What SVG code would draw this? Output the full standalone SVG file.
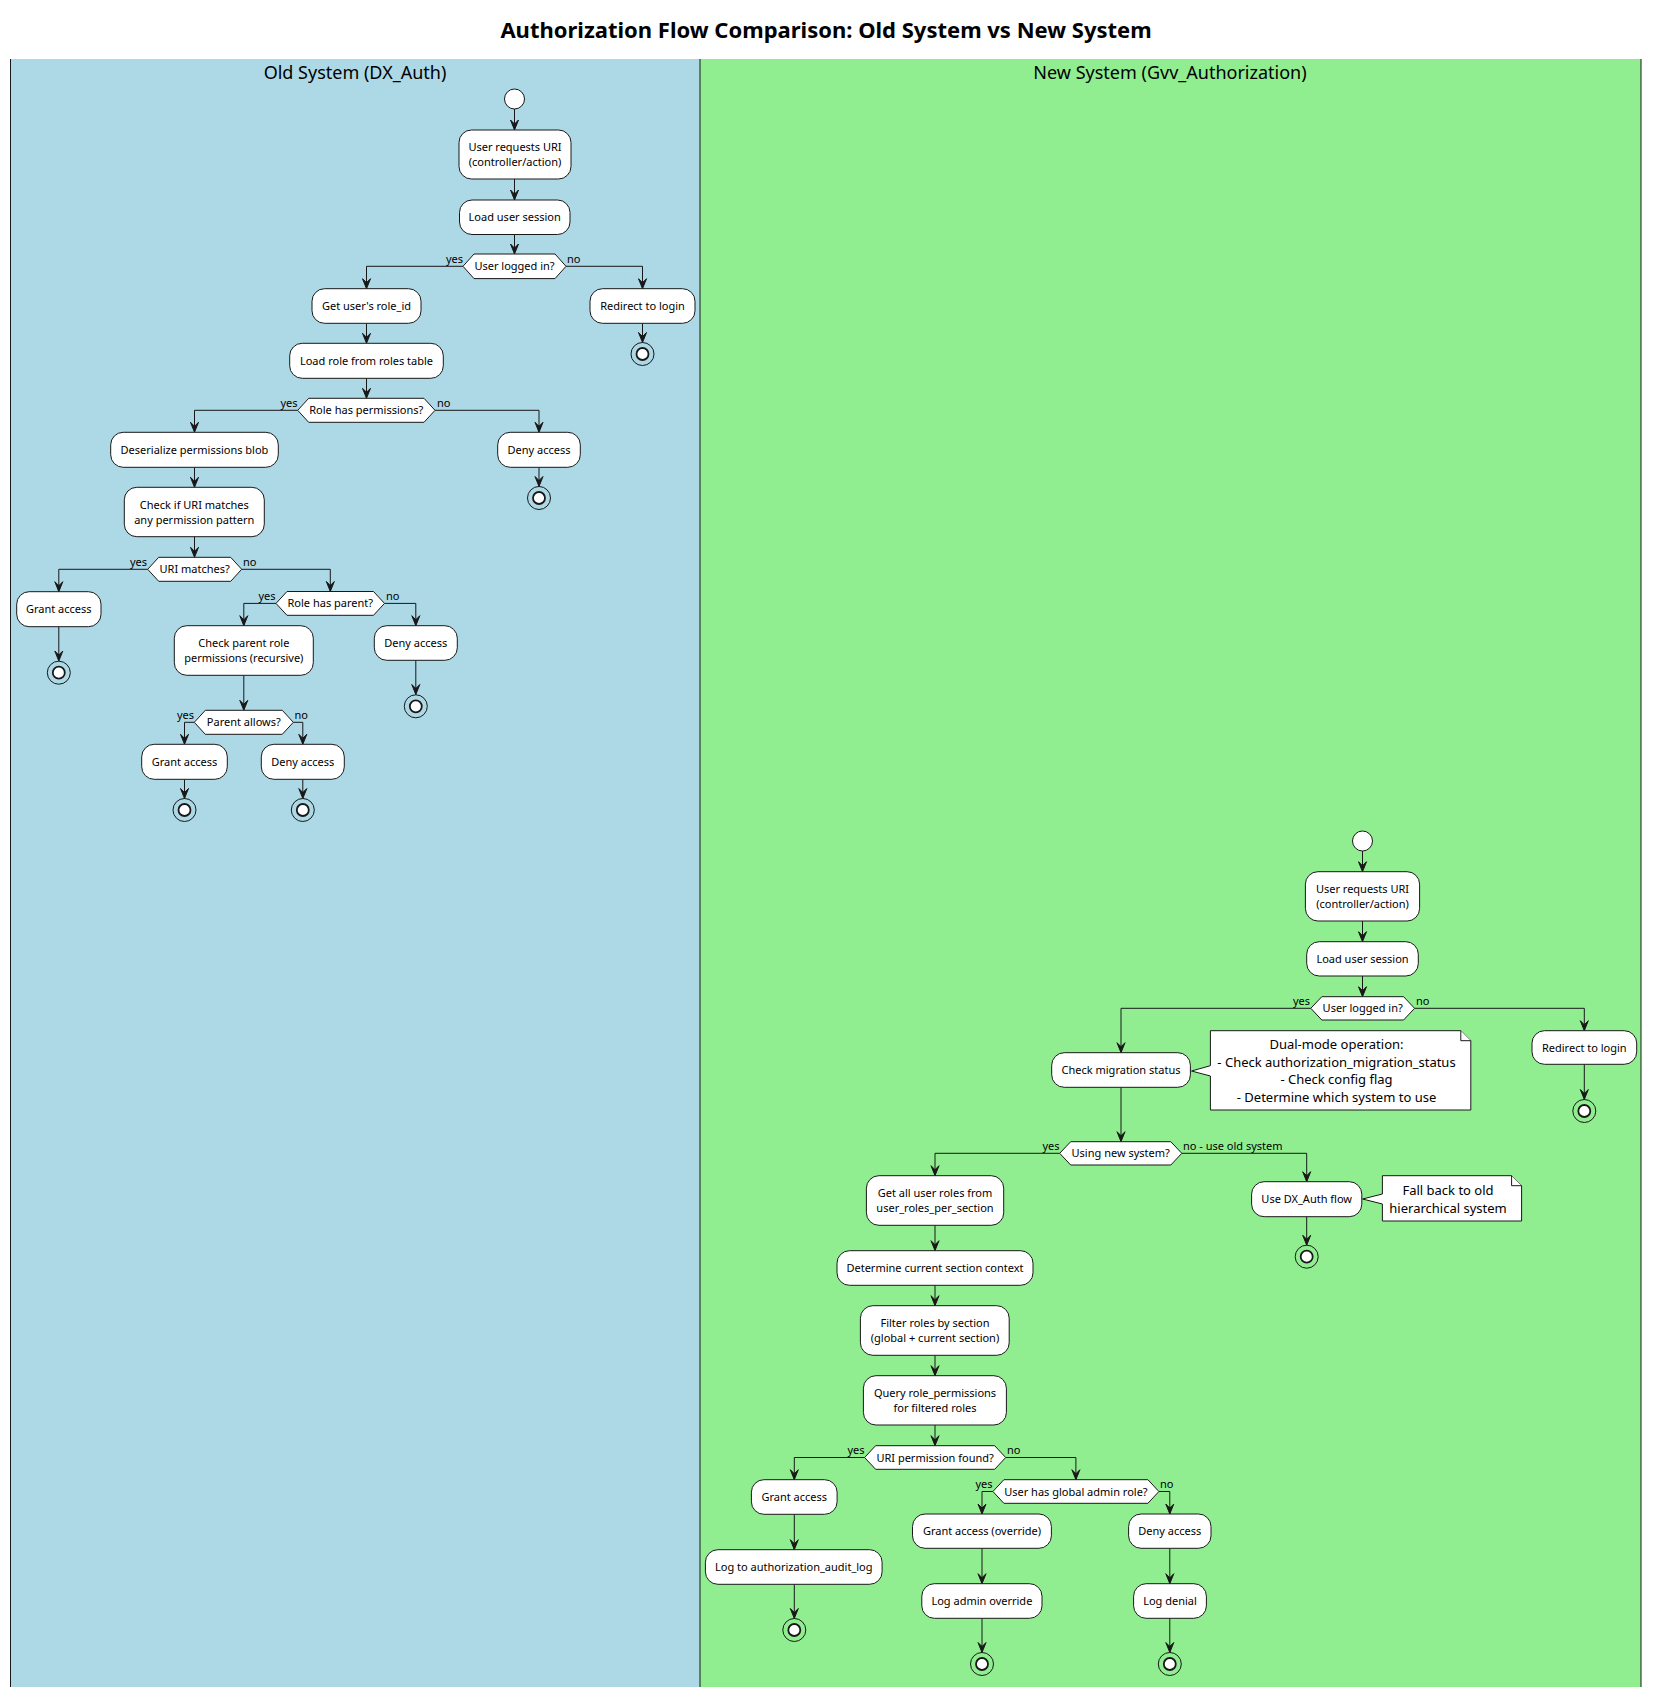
<svg xmlns="http://www.w3.org/2000/svg" width="1653" height="1693" viewBox="0 0 1653 1693">
  <style>
    text { font-family: "Noto Sans", "Open Sans", "DejaVu Sans", sans-serif; fill: #000; }
    .title { font-size: 22px; font-weight: bold; text-anchor: middle; }
    .lane-title { font-size: 18px; text-anchor: middle; }
    .act { fill: #FFFFFF; stroke: #181818; stroke-width: 1; }
    .act-t { font-size: 11px; text-anchor: middle; }
    .lbl { font-size: 11px; }
    .lbl-r { font-size: 11px; text-anchor: end; }
    .note { fill: #FFFFFF; stroke: #181818; stroke-width: 1; }
    .note-t { font-size: 13px; text-anchor: middle; }
    .start { fill: #FFFFFF; stroke: #181818; stroke-width: 1; }
    .stop-o { fill: none; stroke: #181818; stroke-width: 1; }
    .stop-i { fill: #FFFFFF; stroke: #181818; stroke-width: 1.8; }
    .flow path { fill: none; stroke: #181818; stroke-width: 1; marker-end: url(#arrow); }
    .lane-line { stroke: #181818; stroke-width: 1; }
  </style>
  <defs>
    <marker id="arrow" viewBox="-11 -5 12 10" refX="0" refY="0" markerWidth="12" markerHeight="10" markerUnits="userSpaceOnUse" orient="auto">
      <polygon points="-10,-4 0,0 -10,4 -6,0" fill="#181818" stroke="#181818" stroke-width="1"/>
    </marker>
  </defs>

  <rect x="0" y="0" width="1653" height="1693" fill="#FFFFFF"/>
  <text class="title" x="826" y="38">Authorization Flow Comparison: Old System vs New System</text>

  <!-- swimlanes -->
  <g id="lanes">
    <rect x="10.5" y="59" width="689.5" height="1628" fill="#ADD8E6"/>
    <rect x="700" y="59" width="941" height="1628" fill="#90EE90"/>
    <line class="lane-line" x1="10.5" y1="59" x2="10.5" y2="1687"/>
    <line class="lane-line" x1="700" y1="59" x2="700" y2="1687"/>
    <line class="lane-line" x1="1641" y1="59" x2="1641" y2="1687"/>
    <text class="lane-title" x="355" y="79">Old System (DX_Auth)</text>
    <text class="lane-title" x="1170" y="79">New System (Gvv_Authorization)</text>
  </g>

  <!-- connectors -->
  <g id="connectors" class="flow">
    <!-- old system -->
    <path d="M514.5 109 V130"/>
    <path d="M514.5 179 V200"/>
    <path d="M514.5 234.5 V254"/>
    <path d="M463 266.3 H366.5 V288.7"/>
    <path d="M566 266.3 H642.5 V288.7"/>
    <path d="M642.5 323.3 V342.5"/>
    <path d="M366.5 323.3 V343.3"/>
    <path d="M366.5 378.3 V398.3"/>
    <path d="M297.7 410.3 H194.5 V432.3"/>
    <path d="M435 410.3 H539 V432.3"/>
    <path d="M539 467.3 V486.5"/>
    <path d="M194.5 467.3 V487.3"/>
    <path d="M194.5 536.7 V557.3"/>
    <path d="M147.7 569.3 H58.8 V591.7"/>
    <path d="M241.7 569.3 H330.3 V591.5"/>
    <path d="M58.8 626.7 V661"/>
    <path d="M276 603.4 H243.8 V625.7"/>
    <path d="M384.5 603.4 H415.8 V625.7"/>
    <path d="M415.8 660.3 V694.5"/>
    <path d="M243.8 675.3 V710.3"/>
    <path d="M194.3 722.3 H184.5 V744.3"/>
    <path d="M293.3 722.3 H302.8 V744.3"/>
    <path d="M184.5 779.3 V798.5"/>
    <path d="M302.8 779.3 V798.5"/>

    <!-- new system -->
    <path d="M1362.5 851 V871.7"/>
    <path d="M1362.5 921 V941.7"/>
    <path d="M1362.5 976 V996.7"/>
    <path d="M1310.8 1008.3 H1121 V1052.7"/>
    <path d="M1414.6 1008.3 H1584.3 V1030.7"/>
    <path d="M1584.3 1064.3 V1099.5"/>
    <path d="M1121 1087.3 V1141.7"/>
    <path d="M1059.7 1153.3 H935 V1175.7"/>
    <path d="M1181.8 1153.3 H1306.7 V1181.7"/>
    <path d="M1306.7 1216.7 V1245.2"/>
    <path d="M935 1225.3 V1250.7"/>
    <path d="M935 1285.3 V1305.7"/>
    <path d="M935 1355.3 V1375.7"/>
    <path d="M935 1425 V1445.7"/>
    <path d="M864.6 1457.5 H794.3 V1479.7"/>
    <path d="M1005.7 1457.5 H1075.9 V1479.7"/>
    <path d="M794.3 1514.3 V1549.7"/>
    <path d="M794.3 1584.3 V1618.5"/>
    <path d="M992.9 1491.5 H982 V1514"/>
    <path d="M1158.9 1491.5 H1169.8 V1514"/>
    <path d="M982 1548.3 V1583.7"/>
    <path d="M1169.8 1548.3 V1583.7"/>
    <path d="M982 1618.3 V1652.5"/>
    <path d="M1169.8 1618.3 V1652.5"/>
  </g>

  <!-- branch labels -->
  <g id="branch-labels">
    <text class="lbl-r" x="463" y="263">yes</text>
    <text class="lbl" x="567" y="263">no</text>
    <text class="lbl-r" x="297.5" y="407">yes</text>
    <text class="lbl" x="437" y="407">no</text>
    <text class="lbl-r" x="147" y="566">yes</text>
    <text class="lbl" x="243" y="566">no</text>
    <text class="lbl-r" x="275.5" y="600">yes</text>
    <text class="lbl" x="386" y="600">no</text>
    <text class="lbl-r" x="194" y="719">yes</text>
    <text class="lbl" x="294.5" y="719">no</text>

    <text class="lbl-r" x="1310" y="1005">yes</text>
    <text class="lbl" x="1416" y="1005">no</text>
    <text class="lbl-r" x="1059.5" y="1150">yes</text>
    <text class="lbl" x="1183" y="1150">no - use old system</text>
    <text class="lbl-r" x="864.5" y="1454">yes</text>
    <text class="lbl" x="1007" y="1454">no</text>
    <text class="lbl-r" x="992.5" y="1488">yes</text>
    <text class="lbl" x="1160" y="1488">no</text>
  </g>

  <!-- ===== Old System (DX_Auth) ===== -->
  <g id="old-start"><circle class="start" cx="514.5" cy="99" r="10"/></g>
  <g id="old-request">
    <rect class="act" x="459" y="130" width="112" height="49" rx="12.5"/>
    <text class="act-t" x="515" y="151">User requests URI</text>
    <text class="act-t" x="515" y="166">(controller/action)</text>
  </g>
  <g id="old-session">
    <rect class="act" x="459.5" y="200" width="110.5" height="34.5" rx="12.5"/>
    <text class="act-t" x="514.7" y="221">Load user session</text>
  </g>
  <g id="old-logged-in">
    <polygon class="act" points="463,266.3 474,254 555,254 566,266.3 555,278.6 474,278.6"/>
    <text class="act-t" x="514.5" y="270.3">User logged in?</text>
  </g>
  <g id="old-role-id">
    <rect class="act" x="312" y="288.7" width="109" height="34.6" rx="12.5"/>
    <text class="act-t" x="366.5" y="310">Get user's role_id</text>
  </g>
  <g id="old-redirect">
    <rect class="act" x="590" y="288.7" width="105" height="34.6" rx="12.5"/>
    <text class="act-t" x="642.5" y="310">Redirect to login</text>
  </g>
  <g id="old-redirect-end">
    <circle class="stop-o" cx="642.5" cy="354" r="11.5"/>
    <circle class="stop-i" cx="642.5" cy="354" r="6"/>
  </g>
  <g id="old-load-role">
    <rect class="act" x="289.7" y="343.3" width="153.6" height="35" rx="12.5"/>
    <text class="act-t" x="366.5" y="364.8">Load role from roles table</text>
  </g>
  <g id="old-has-perms">
    <polygon class="act" points="297.7,410.3 308.7,398.3 424,398.3 435,410.3 424,422.3 308.7,422.3"/>
    <text class="act-t" x="366.3" y="414.3">Role has permissions?</text>
  </g>
  <g id="old-deserialize">
    <rect class="act" x="110.7" y="432.3" width="167.6" height="35" rx="12.5"/>
    <text class="act-t" x="194.5" y="453.8">Deserialize permissions blob</text>
  </g>
  <g id="old-deny-1">
    <rect class="act" x="497.7" y="432.3" width="82.6" height="35" rx="12.5"/>
    <text class="act-t" x="539" y="453.8">Deny access</text>
  </g>
  <g id="old-deny-1-end">
    <circle class="stop-o" cx="539" cy="498" r="11.5"/>
    <circle class="stop-i" cx="539" cy="498" r="6"/>
  </g>
  <g id="old-check-uri">
    <rect class="act" x="124.3" y="487.3" width="140" height="49.4" rx="12.5"/>
    <text class="act-t" x="194.3" y="508.5">Check if URI matches</text>
    <text class="act-t" x="194.3" y="523.5">any permission pattern</text>
  </g>
  <g id="old-uri-matches">
    <polygon class="act" points="147.7,569.3 158.7,557.3 230.7,557.3 241.7,569.3 230.7,581.3 158.7,581.3"/>
    <text class="act-t" x="194.7" y="573.3">URI matches?</text>
  </g>
  <g id="old-grant-1">
    <rect class="act" x="16.7" y="591.7" width="84.3" height="35" rx="12.5"/>
    <text class="act-t" x="58.8" y="613.2">Grant access</text>
  </g>
  <g id="old-grant-1-end">
    <circle class="stop-o" cx="58.8" cy="672.7" r="11.5"/>
    <circle class="stop-i" cx="58.8" cy="672.7" r="6"/>
  </g>
  <g id="old-has-parent">
    <polygon class="act" points="276,603.4 287,591.5 373.5,591.5 384.5,603.4 373.5,615.3 287,615.3"/>
    <text class="act-t" x="330.3" y="607.4">Role has parent?</text>
  </g>
  <g id="old-check-parent">
    <rect class="act" x="174.3" y="625.7" width="139" height="49.6" rx="12.5"/>
    <text class="act-t" x="243.8" y="646.8">Check parent role</text>
    <text class="act-t" x="243.8" y="661.8">permissions (recursive)</text>
  </g>
  <g id="old-deny-2">
    <rect class="act" x="374.3" y="625.7" width="83" height="34.6" rx="12.5"/>
    <text class="act-t" x="415.8" y="647">Deny access</text>
  </g>
  <g id="old-deny-2-end">
    <circle class="stop-o" cx="415.8" cy="706.3" r="11.5"/>
    <circle class="stop-i" cx="415.8" cy="706.3" r="6"/>
  </g>
  <g id="old-parent-allows">
    <polygon class="act" points="194.3,722.3 205.3,710.3 282.3,710.3 293.3,722.3 282.3,734.3 205.3,734.3"/>
    <text class="act-t" x="243.8" y="726.3">Parent allows?</text>
  </g>
  <g id="old-grant-2">
    <rect class="act" x="141.7" y="744.3" width="85.6" height="35" rx="12.5"/>
    <text class="act-t" x="184.5" y="765.8">Grant access</text>
  </g>
  <g id="old-grant-2-end">
    <circle class="stop-o" cx="184.5" cy="810" r="11.5"/>
    <circle class="stop-i" cx="184.5" cy="810" r="6"/>
  </g>
  <g id="old-deny-3">
    <rect class="act" x="261.3" y="744.3" width="83" height="35" rx="12.5"/>
    <text class="act-t" x="302.8" y="765.8">Deny access</text>
  </g>
  <g id="old-deny-3-end">
    <circle class="stop-o" cx="302.8" cy="810" r="11.5"/>
    <circle class="stop-i" cx="302.8" cy="810" r="6"/>
  </g>

  <!-- ===== New System (Gvv_Authorization) ===== -->
  <g id="new-start"><circle class="start" cx="1362.5" cy="841" r="10"/></g>
  <g id="new-request">
    <rect class="act" x="1305.4" y="871.7" width="114.2" height="49.3" rx="12.5"/>
    <text class="act-t" x="1362.5" y="892.8">User requests URI</text>
    <text class="act-t" x="1362.5" y="907.8">(controller/action)</text>
  </g>
  <g id="new-session">
    <rect class="act" x="1306.7" y="941.7" width="111.6" height="34.3" rx="12.5"/>
    <text class="act-t" x="1362.5" y="962.9">Load user session</text>
  </g>
  <g id="new-logged-in">
    <polygon class="act" points="1310.8,1008.3 1321.8,996.7 1403.6,996.7 1414.6,1008.3 1403.6,1020 1321.8,1020"/>
    <text class="act-t" x="1362.7" y="1012.3">User logged in?</text>
  </g>
  <g id="new-migration">
    <rect class="act" x="1051.7" y="1052.7" width="138.7" height="34.6" rx="12.5"/>
    <text class="act-t" x="1121" y="1074">Check migration status</text>
  </g>
  <g id="note-dual-mode">
    <path class="note" d="M1210.4 1030.7 H1460.8 L1470.8 1040.7 V1110 H1210.4 V1076 L1191.5 1071 L1210.4 1065.7 Z"/>
    <path class="note" d="M1460.8 1030.7 V1040.7 H1470.8"/>
    <text class="note-t" x="1336.5" y="1049">Dual-mode operation:</text>
    <text class="note-t" x="1336.5" y="1066.6">- Check authorization_migration_status</text>
    <text class="note-t" x="1336.5" y="1084.2">- Check config flag</text>
    <text class="note-t" x="1336.5" y="1101.8">- Determine which system to use</text>
  </g>
  <g id="new-redirect">
    <rect class="act" x="1532" y="1030.7" width="104.7" height="33.6" rx="12.5"/>
    <text class="act-t" x="1584.3" y="1051.5">Redirect to login</text>
  </g>
  <g id="new-redirect-end">
    <circle class="stop-o" cx="1584.3" cy="1111" r="11.5"/>
    <circle class="stop-i" cx="1584.3" cy="1111" r="6"/>
  </g>
  <g id="new-using-new">
    <polygon class="act" points="1059.7,1153.3 1070.7,1141.7 1170.8,1141.7 1181.8,1153.3 1170.8,1165 1070.7,1165"/>
    <text class="act-t" x="1120.7" y="1157.3">Using new system?</text>
  </g>
  <g id="new-get-roles">
    <rect class="act" x="866.4" y="1175.7" width="137.3" height="49.6" rx="12.5"/>
    <text class="act-t" x="935" y="1196.8">Get all user roles from</text>
    <text class="act-t" x="935" y="1211.8">user_roles_per_section</text>
  </g>
  <g id="new-dx-auth">
    <rect class="act" x="1251.6" y="1181.7" width="110.2" height="35" rx="12.5"/>
    <text class="act-t" x="1306.7" y="1203.2">Use DX_Auth flow</text>
  </g>
  <g id="note-fallback">
    <path class="note" d="M1382.4 1175.7 H1511.6 L1521.6 1185.7 V1221 H1382.4 V1204 L1362.5 1199 L1382.4 1194 Z"/>
    <path class="note" d="M1511.6 1175.7 V1185.7 H1521.6"/>
    <text class="note-t" x="1448" y="1195.2">Fall back to old</text>
    <text class="note-t" x="1448" y="1213.2">hierarchical system</text>
  </g>
  <g id="new-dx-auth-end">
    <circle class="stop-o" cx="1306.7" cy="1256.7" r="11.5"/>
    <circle class="stop-i" cx="1306.7" cy="1256.7" r="6"/>
  </g>
  <g id="new-section-context">
    <rect class="act" x="837" y="1250.7" width="196" height="34.6" rx="12.5"/>
    <text class="act-t" x="935" y="1272">Determine current section context</text>
  </g>
  <g id="new-filter-roles">
    <rect class="act" x="860.4" y="1305.7" width="148.8" height="49.6" rx="12.5"/>
    <text class="act-t" x="935" y="1326.8">Filter roles by section</text>
    <text class="act-t" x="935" y="1341.8">(global + current section)</text>
  </g>
  <g id="new-query-perms">
    <rect class="act" x="863.4" y="1375.7" width="143" height="49.3" rx="12.5"/>
    <text class="act-t" x="935" y="1396.8">Query role_permissions</text>
    <text class="act-t" x="935" y="1411.8">for filtered roles</text>
  </g>
  <g id="new-uri-found">
    <polygon class="act" points="864.6,1457.5 875.6,1445.7 994.7,1445.7 1005.7,1457.5 994.7,1469.3 875.6,1469.3"/>
    <text class="act-t" x="935.1" y="1461.5">URI permission found?</text>
  </g>
  <g id="new-grant">
    <rect class="act" x="751.4" y="1479.7" width="85.7" height="34.6" rx="12.5"/>
    <text class="act-t" x="794.3" y="1501">Grant access</text>
  </g>
  <g id="new-audit-log">
    <rect class="act" x="705.4" y="1549.7" width="176.7" height="34.6" rx="12.5"/>
    <text class="act-t" x="793.8" y="1571">Log to authorization_audit_log</text>
  </g>
  <g id="new-grant-end">
    <circle class="stop-o" cx="794.3" cy="1630" r="11.5"/>
    <circle class="stop-i" cx="794.3" cy="1630" r="6"/>
  </g>
  <g id="new-global-admin">
    <polygon class="act" points="992.9,1491.5 1003.9,1479.7 1147.9,1479.7 1158.9,1491.5 1147.9,1503.3 1003.9,1503.3"/>
    <text class="act-t" x="1075.9" y="1495.5">User has global admin role?</text>
  </g>
  <g id="new-grant-override">
    <rect class="act" x="912.5" y="1514" width="138.9" height="34.3" rx="12.5"/>
    <text class="act-t" x="982" y="1535.2">Grant access (override)</text>
  </g>
  <g id="new-deny">
    <rect class="act" x="1128.6" y="1514" width="82.4" height="34.3" rx="12.5"/>
    <text class="act-t" x="1169.8" y="1535.2">Deny access</text>
  </g>
  <g id="new-log-override">
    <rect class="act" x="921.8" y="1583.7" width="120.2" height="34.6" rx="12.5"/>
    <text class="act-t" x="981.9" y="1605">Log admin override</text>
  </g>
  <g id="new-log-denial">
    <rect class="act" x="1133.6" y="1583.7" width="72.8" height="34.6" rx="12.5"/>
    <text class="act-t" x="1170" y="1605">Log denial</text>
  </g>
  <g id="new-override-end">
    <circle class="stop-o" cx="982" cy="1664" r="11.5"/>
    <circle class="stop-i" cx="982" cy="1664" r="6"/>
  </g>
  <g id="new-denial-end">
    <circle class="stop-o" cx="1169.8" cy="1664" r="11.5"/>
    <circle class="stop-i" cx="1169.8" cy="1664" r="6"/>
  </g>
</svg>
